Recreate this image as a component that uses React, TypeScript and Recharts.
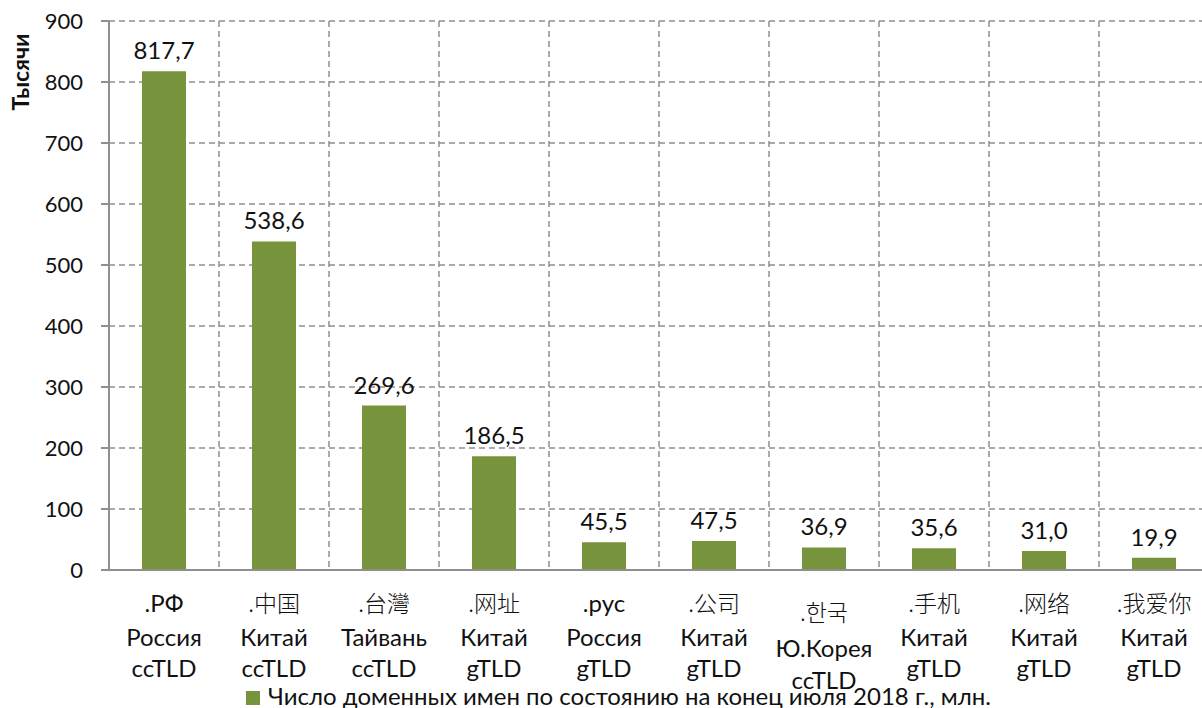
import React from 'react';
import { BarChart, Bar, XAxis, YAxis, CartesianGrid, LabelList, Legend } from 'recharts';

const domains = ['.РФ', '.中国', '.台灣', '.网址', '.рус', '.公司', '.한국', '.手机', '.网络', '.我爱你'];
const regions = ['Россия', 'Китай', 'Тайвань', 'Китай', 'Россия', 'Китай', 'Ю.Корея', 'Китай', 'Китай', 'Китай'];
const tldTypes = ['ccTLD', 'ccTLD', 'ccTLD', 'gTLD', 'gTLD', 'gTLD', 'ccTLD', 'gTLD', 'gTLD', 'gTLD'];
const values = [817.7, 538.6, 269.6, 186.5, 45.5, 47.5, 36.9, 35.6, 31.0, 19.9];
const yTicks = [0, 100, 200, 300, 400, 500, 600, 700, 800, 900];
const boundaryTicks = [0, 1, 2, 3, 4, 5, 6, 7, 8, 9, 10];
const seriesName = 'Число доменных имен по состоянию на конец июля 2018 г., млн.';
const axisTitle = 'Тысячи';

const data = domains.map((d, i) => ({ domain: d, region: regions[i], tld: tldTypes[i], value: values[i] }));

const FONT = "Lato, 'Open Sans', 'Noto Sans CJK SC', sans-serif";
const CJK_FONT = "'Noto Sans CJK SC', 'Noto Sans CJK KR', sans-serif";
const GREEN = '#77933C';
const GRID = '#8f8f8f';

const fmt = (v: number) => v.toFixed(1).replace('.', ',');

const CategoryTick = (props: any) => {
  const { x, y, payload } = props;
  const i = payload.index;
  const row = data[i];
  const kr = row.domain === '.한국';
  const cjk = /[\u3000-\uffff]/.test(row.domain);
  const offs = kr ? [51, 87, 119] : [42, 76, 107];
  return (
    <g>
      <text x={x} y={y + offs[0]} textAnchor="middle" fontSize={cjk ? 23 : 24}
        fontFamily={cjk ? (kr ? "'Noto Sans CJK KR', sans-serif" : CJK_FONT) : FONT}
        fontWeight={cjk ? 300 : 400} fill="#111">
        {row.domain}
      </text>
      <text x={x} y={y + offs[1]} textAnchor="middle" fontSize={24} fontFamily={FONT} fill="#111">
        {row.region}
      </text>
      <text x={x} y={y + offs[2]} textAnchor="middle" fontSize={24} fontFamily={FONT} fill="#111">
        {row.tld}
      </text>
    </g>
  );
};

const LegendContent = () => (
  <div style={{ display: 'flex', alignItems: 'center', fontFamily: FONT, fontSize: 24, lineHeight: '24px', color: '#111', whiteSpace: 'nowrap' }}>
    <span style={{ display: 'inline-block', width: 14, height: 14, background: GREEN, marginRight: 8, marginTop: 3 }} />
    <span>{seriesName}</span>
  </div>
);

const verticalBoundaries = ({ offset }: any) =>
  boundaryTicks.map((t) => offset.left + (t * offset.width) / boundaryTicks[boundaryTicks.length - 1]);

export default function App() {
  return (
    <div style={{ position: 'absolute', left: 0, top: 0, width: 1202, height: 708, overflow: 'hidden', background: '#fff' }}>
      <BarChart width={1209} height={708} data={data} margin={{ top: 21, right: 0, bottom: 0, left: 0 }}>
        <CartesianGrid stroke={GRID} strokeWidth={1.5} strokeDasharray="6 4" verticalCoordinatesGenerator={verticalBoundaries} />
        <XAxis xAxisId="grid" type="number" domain={[0, 10]} ticks={boundaryTicks} height={0} tick={false}
          axisLine={false} tickLine={{ stroke: GRID, strokeWidth: 2 }} tickSize={8} />
        <XAxis xAxisId="cat" dataKey="domain" height={138} interval={0} tickLine={false} tickSize={0} tickMargin={0}
          axisLine={{ stroke: GRID, strokeWidth: 2 }} tick={<CategoryTick />} />
        <YAxis width={109} domain={[0, 900]} ticks={yTicks} interval={0} tickSize={8} tickMargin={18}
          axisLine={{ stroke: GRID, strokeWidth: 2 }} tickLine={{ stroke: GRID, strokeWidth: 2 }}
          tick={{ fontSize: 22, fontFamily: FONT, fill: '#111' }}
          label={(p: any) => (
            <text x={29} y={72} transform="rotate(-90 29 72)" textAnchor="middle" fontSize={23} fontWeight={700} fontFamily={FONT} fill="#111">
              {axisTitle}
            </text>
          )} />
        <Legend layout="horizontal" verticalAlign="middle" align="center" content={<LegendContent />}
          wrapperStyle={{ position: 'absolute', left: 246, top: 684, width: 900, height: 24 }} />
        <Bar xAxisId="cat" dataKey="value" name={seriesName} fill={GREEN} barSize={44} isAnimationActive={false}>
          <LabelList dataKey="value" position="top" offset={12} formatter={(v: any) => fmt(Number(v))}
            style={{ fontSize: 24, fontFamily: FONT, fill: '#111' }} />
        </Bar>
      </BarChart>
    </div>
  );
}
